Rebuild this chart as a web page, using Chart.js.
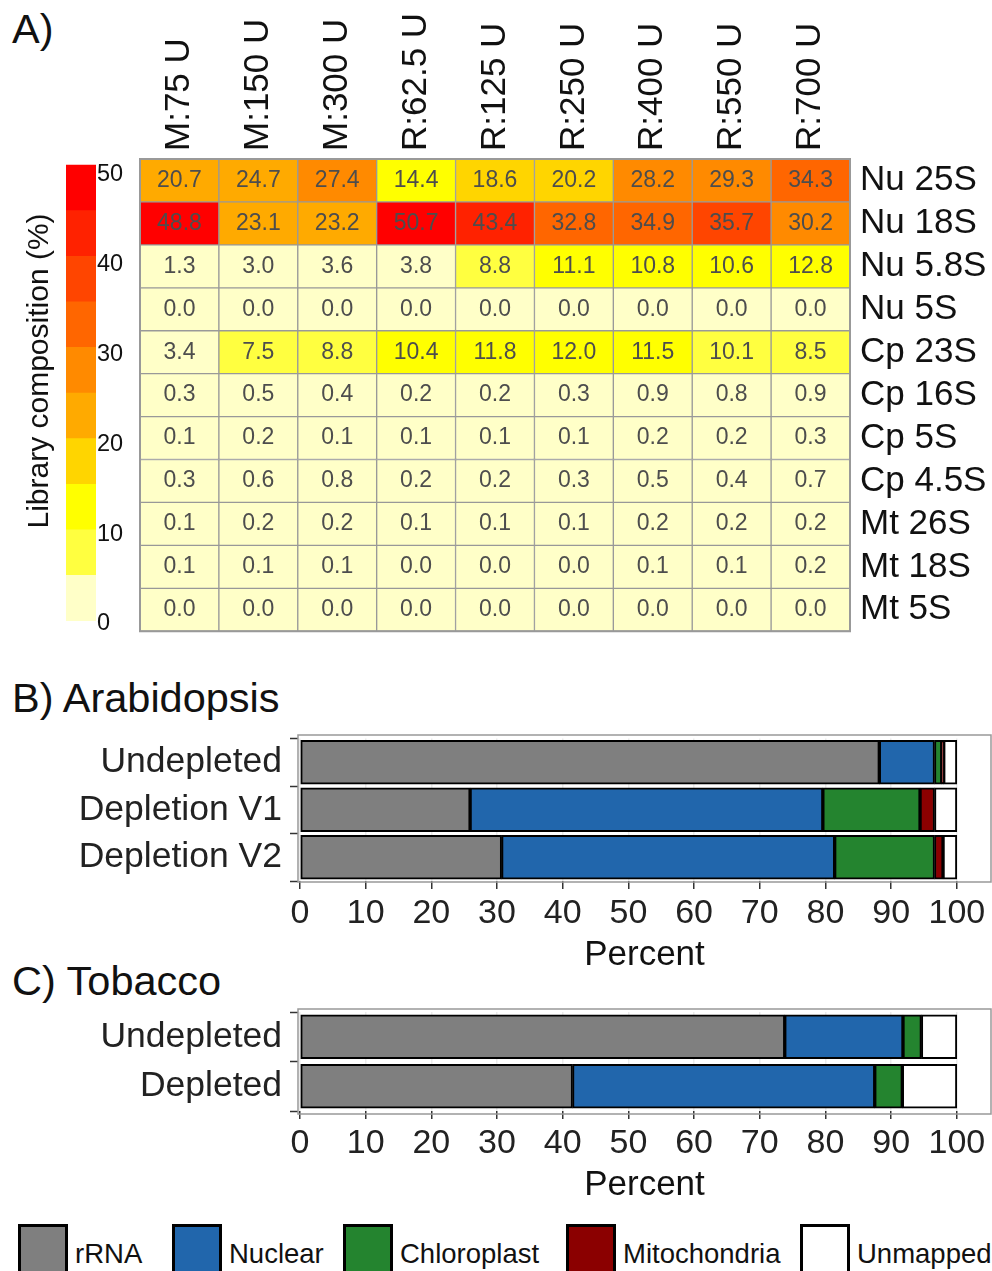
<!DOCTYPE html>
<html><head><meta charset="utf-8">
<script src="https://cdn.jsdelivr.net/npm/chart.js@4/dist/chart.umd.min.js"></script>
<style>
html,body{margin:0;padding:0;background:#fff;}
#page{position:relative;width:992px;height:1271px;overflow:hidden;font-family:"Liberation Sans",Arial,sans-serif;background:#fff;}
canvas{position:absolute;}
.ptitle{position:absolute;left:12px;font-size:41.5px;line-height:1;color:#111;white-space:nowrap;}
.lg-box{position:absolute;width:44px;height:44px;border:3px solid #000;top:1224px;}
.lg-text{position:absolute;font-size:27.5px;line-height:1;color:#111;top:1240px;white-space:nowrap;}
</style></head>
<body><div id="page">
<div class="ptitle" style="top:8px">A)</div>
<div class="ptitle" style="top:677px">B) Arabidopsis</div>
<div class="ptitle" style="top:960px">C) Tobacco</div>
<canvas id="heat" width="992" height="650" style="left:0;top:0"></canvas>
<canvas id="scale" width="140" height="540" style="left:0;top:100px"></canvas>
<canvas id="ara" width="992" height="265" style="left:0;top:715px"></canvas>
<canvas id="tob" width="992" height="220" style="left:0;top:990px"></canvas>
<div id="legend"></div>
</div>
<script>
// ---------- Panel A data ----------
const heatColumns = ['M:75 U','M:150 U','M:300 U','R:62.5 U','R:125 U','R:250 U','R:400 U','R:550 U','R:700 U'];
const heatRows = ['Nu 25S','Nu 18S','Nu 5.8S','Nu 5S','Cp 23S','Cp 16S','Cp 5S','Cp 4.5S','Mt 26S','Mt 18S','Mt 5S'];
const nu25S  = [20.7,24.7,27.4,14.4,18.6,20.2,28.2,29.3,34.3];
const nu18S  = [48.8,23.1,23.2,50.7,43.4,32.8,34.9,35.7,30.2];
const nu58S  = [1.3,3.0,3.6,3.8,8.8,11.1,10.8,10.6,12.8];
const nu5S   = [0.0,0.0,0.0,0.0,0.0,0.0,0.0,0.0,0.0];
const cp23S  = [3.4,7.5,8.8,10.4,11.8,12.0,11.5,10.1,8.5];
const cp16S  = [0.3,0.5,0.4,0.2,0.2,0.3,0.9,0.8,0.9];
const cp5S   = [0.1,0.2,0.1,0.1,0.1,0.1,0.2,0.2,0.3];
const cp45S  = [0.3,0.6,0.8,0.2,0.2,0.3,0.5,0.4,0.7];
const mt26S  = [0.1,0.2,0.2,0.1,0.1,0.1,0.2,0.2,0.2];
const mt18S  = [0.1,0.1,0.1,0.0,0.0,0.0,0.1,0.1,0.2];
const mt5S   = [0.0,0.0,0.0,0.0,0.0,0.0,0.0,0.0,0.0];
const heatValues = [nu25S,nu18S,nu58S,nu5S,cp23S,cp16S,cp5S,cp45S,mt26S,mt18S,mt5S];

const scaleBreaks = [0,5.07,10.14,15.21,20.28,25.35,30.42,35.49,40.56,45.63,50.7];
const scaleColors = ['#FFFFC8','#FFFF40','#FFFF00','#FFD500','#FFAA00','#FF8A00','#FF6600','#FF4500','#FF2200','#FF0000'];
const scaleTicks = [0,10,20,30,40,50];

// ---------- Panel B / C data ----------
const seriesNames  = ['rRNA','Nuclear','Chloroplast','Mitochondria','Unmapped'];
const seriesColors = ['#7F7F7F','#2166AC','#24842F','#8B0000','#FFFFFF'];
const pctTicks = [0,10,20,30,40,50,60,70,80,90,100];

const araCategories  = ['Undepleted','Depletion V1','Depletion V2'];
const araRRNA        = [88.2, 25.9, 30.7];
const araNuclear     = [8.4, 53.7, 50.7];
const araChloroplast = [1.1, 14.8, 15.2];
const araMito        = [0.3, 2.2, 1.3];
const araUnmapped    = [2.0, 3.4, 2.1];

const tobCategories  = ['Undepleted','Depleted'];
const tobRRNA        = [73.8, 41.5];
const tobNuclear     = [18.0, 46.0];
const tobChloroplast = [2.8, 4.2];
const tobMito        = [0.0, 0.0];
const tobUnmapped    = [5.4, 8.3];

// ---------- helpers ----------
const FONT = '"Liberation Sans", Arial, sans-serif';
Chart.defaults.font.family = FONT;
Chart.defaults.color = '#222';

function binColor(v) {
  for (let i = scaleColors.length - 1; i >= 0; i--) if (v >= scaleBreaks[i]) return scaleColors[i];
  return scaleColors[0];
}

const cellLabels = {
  id: 'cellLabels',
  afterDatasetsDraw(chart) {
    const ctx = chart.ctx;
    ctx.save();
    ctx.font = '23px ' + FONT;
    ctx.fillStyle = '#4D4D4D';
    ctx.textAlign = 'center';
    ctx.textBaseline = 'middle';
    chart.data.datasets.forEach((ds, r) => {
      chart.getDatasetMeta(r).data.forEach((el, c) => {
        ctx.fillText(ds.values[c].toFixed(1), el.x, (el.y + el.base) / 2);
      });
    });
    const a = chart.chartArea;
    ctx.strokeStyle = '#999';
    ctx.lineWidth = 2;
    ctx.strokeRect(a.left, a.top, a.right - a.left, a.bottom - a.top);
    ctx.restore();
  }
};

// panel frame slightly larger than the category band area (ggplot-style expansion)
const panelBorder = {
  id: 'panelBorder',
  afterDraw(chart, args, opts) {
    const ctx = chart.ctx, a = chart.chartArea;
    const t = a.top - (opts.extTop || 0), b = a.bottom + (opts.extBottom || 0);
    ctx.save();
    ctx.strokeStyle = '#999';
    ctx.lineWidth = 1.5;
    ctx.strokeRect(a.left, t, a.right - a.left, b - t);
    ctx.restore();
  }
};

// ---------- Panel A heatmap ----------
new Chart(document.getElementById('heat'), {
  type: 'bar',
  data: {
    labels: heatColumns,
    datasets: heatRows.map((name, r) => ({
      label: name,
      values: heatValues[r],
      data: heatValues[r].map(() => [r, r + 1]),
      backgroundColor: heatValues[r].map(binColor),
      borderColor: '#999',
      borderWidth: 1,
      borderSkipped: false,
      grouped: false,
      barPercentage: 1,
      categoryPercentage: 1
    }))
  },
  options: {
    responsive: false, animation: false, devicePixelRatio: 1,
    layout: { padding: { left: 140, right: 0, top: 0, bottom: 15 } },
    plugins: { legend: { display: false }, tooltip: { enabled: false } },
    scales: {
      x: {
        position: 'top',
        grid: { display: false, drawTicks: false }, border: { display: false },
        ticks: { font: { size: 35 }, color: '#111', minRotation: 90, maxRotation: 90, padding: 8,
                 labelOffset: 42, autoSkip: false },
        afterFit: a => { a.height = 159; }
      },
      y: {
        type: 'linear', position: 'right', min: 0, max: 11, reverse: true,
        grid: { display: false, drawTicks: false }, border: { display: false },
        afterBuildTicks: a => { a.ticks = heatRows.map((_, i) => ({ value: i + 0.5 })); },
        ticks: { font: { size: 35, lineHeight: 0.5 }, color: '#111', padding: 10, autoSkip: false,
                 callback: v => heatRows[Math.floor(v)] },
        afterFit: a => { a.width = 142; }
      }
    }
  },
  plugins: [cellLabels]
});

// ---------- Panel A colour scale ----------
new Chart(document.getElementById('scale'), {
  type: 'bar',
  data: {
    labels: [''],
    datasets: scaleColors.map((col, i) => ({
      label: String(scaleBreaks[i]),
      data: [[scaleBreaks[i], scaleBreaks[i + 1]]],
      backgroundColor: col, borderWidth: 0,
      grouped: false, barPercentage: 1, categoryPercentage: 1
    }))
  },
  options: {
    responsive: false, animation: false, devicePixelRatio: 1,
    layout: { padding: { top: 21, bottom: 19, left: 0, right: 0 } },
    plugins: { legend: { display: false }, tooltip: { enabled: false } },
    scales: {
      x: { display: false },
      y: {
        type: 'linear', position: 'right', min: 0, max: 55.6,
        grid: { display: false, drawTicks: false }, border: { display: false },
        afterBuildTicks: a => { a.ticks = scaleTicks.map(v => ({ value: v })); },
        ticks: { font: { size: 23.5, lineHeight: 0.5 }, color: '#111', padding: 1, labelOffset: 3, autoSkip: false },
        afterFit: a => { a.width = 44; }
      },
      yl: {
        type: 'linear', position: 'left', min: 0, max: 55.6,
        grid: { display: false, drawTicks: false }, border: { display: false },
        ticks: { display: false },
        title: { display: true, text: 'Library composition (%)', font: { size: 30 }, color: '#111',
                 padding: { top: 22, bottom: 0 } },
        afterFit: a => { a.width = 66; }
      }
    }
  }
});

// ---------- Panels B and C ----------
function barChart(id, cats, series, padTop, xHeight, extTop, extBottom) {
  return new Chart(document.getElementById(id), {
    type: 'bar',
    data: {
      labels: cats,
      datasets: series.map((vals, i) => ({
        label: seriesNames[i], data: vals, backgroundColor: seriesColors[i],
        borderColor: '#000', borderWidth: 2, borderSkipped: false, barThickness: 44
      }))
    },
    options: {
      indexAxis: 'y', responsive: false, animation: false, devicePixelRatio: 1,
      layout: { padding: { top: padTop, right: 1, left: 0, bottom: 0 } },
      plugins: { legend: { display: false }, tooltip: { enabled: false },
                 panelBorder: { extTop: extTop, extBottom: extBottom } },
      scales: {
        x: {
          type: 'linear', stacked: true, min: -0.3, max: 105.2, position: 'bottom',
          afterBuildTicks: a => { a.ticks = pctTicks.map(v => ({ value: v })); },
          afterFit: a => { a.height = xHeight; },
          grid: { color: '#EBEBEB', lineWidth: 1.5, drawTicks: true, tickLength: 8, tickColor: '#333', tickWidth: 1.5 },
          border: { display: false },
          ticks: { font: { size: 34 }, color: '#222', padding: 4.5, autoSkip: false, maxRotation: 0 },
          title: { display: true, text: 'Percent', font: { size: 35 }, color: '#111', padding: { top: 0, bottom: 4 } }
        },
        y: {
          stacked: true,
          afterFit: a => { a.width = 298; },
          grid: { drawOnChartArea: false, drawTicks: true, tickLength: 8, tickColor: '#333', tickWidth: 1.5 },
          border: { display: false },
          ticks: { font: { size: 35.5, lineHeight: 0.5 }, color: '#222', padding: 8, autoSkip: false }
        }
      }
    },
    plugins: [panelBorder]
  });
}
barChart('ara', araCategories, [araRRNA, araNuclear, araChloroplast, araMito, araUnmapped], 23.5, 99, 3.5, 1);
barChart('tob', tobCategories, [tobRRNA, tobNuclear, tobChloroplast, tobMito, tobUnmapped], 22, 99, 3, 3);

// ---------- Legend ----------
const legendX = [18, 172, 343, 566, 800];
const lg = document.getElementById('legend');
seriesNames.forEach((name, i) => {
  const b = document.createElement('div');
  b.className = 'lg-box';
  b.style.left = legendX[i] + 'px';
  b.style.background = seriesColors[i];
  lg.appendChild(b);
  const t = document.createElement('div');
  t.className = 'lg-text';
  t.style.left = (legendX[i] + 57) + 'px';
  t.textContent = name;
  lg.appendChild(t);
});
</script>
</body></html>
